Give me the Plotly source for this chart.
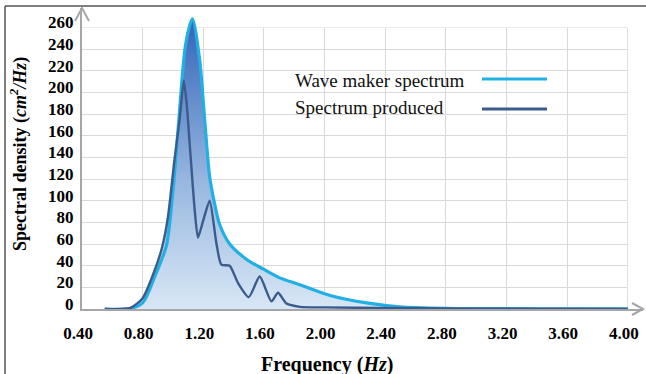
import plotly.graph_objects as go

# ---------------- data ----------------
wave_freq = [0.55, 0.72, 0.80, 0.88, 0.956, 0.978, 1.01, 1.044, 1.084, 1.128, 1.176, 1.209,
             1.242, 1.275, 1.308, 1.374, 1.484, 1.594, 1.70, 1.836, 2.056, 2.277, 2.497, 2.8,
             3.2, 3.6, 4.0]
wave_spec = [0, 0.5, 5.6, 30, 58, 79, 125, 184, 245, 268, 230, 175,
             122, 97, 78, 60, 46, 37, 29, 22.5, 11.7, 5.6, 2.0, 0.6,
             0.3, 0.2, 0.1]

prod_freq = [0.55, 0.72, 0.80, 0.88, 0.93, 0.967, 1.01, 1.044, 1.071, 1.09, 1.110, 1.143,
             1.165, 1.20, 1.242, 1.286, 1.319, 1.374, 1.429, 1.50, 1.572, 1.649, 1.693,
             1.749, 1.836, 2.0, 2.4, 2.8, 3.2, 3.6, 4.0]
prod_spec = [0, 1, 10, 36, 58, 85, 138, 175, 211, 190, 153, 92,
             66, 82, 100, 61, 41, 40, 24, 11, 30, 7, 15,
             5, 2, 1.5, 1.0, 0.5, 0.3, 0.2, 0.1]

x_ticks = [0.40, 0.80, 1.20, 1.60, 2.00, 2.40, 2.80, 3.20, 3.60, 4.00]
y_ticks = list(range(0, 261, 20))

legend_names = ["Wave maker spectrum", "Spectrum produced"]
line_colors = ["#22b0e4", "#3b5b8d"]

# ---------------- layout geometry ----------------
W, H = 646, 374
ML, MR, MT, MB = 82, 3, 8, 65
XR = [0.40, 4.10]
YR = [0, 278]
pw, ph = W - ML - MR, H - MT - MB


def px_x(px):  # pixel -> paper x
    return (px - ML) / pw


def px_y(py):  # pixel -> paper y
    return (H - MB - py) / ph


grad = dict(type="vertical", start=0, stop=268,
            colorscale=[[0, "#d8e7f5"], [0.45, "#96b6df"], [1, "#3264b8"]])

fig = go.Figure()
# fill under produced spectrum (visible only where it exceeds the wave maker one)
fig.add_trace(go.Scatter(x=prod_freq, y=prod_spec, mode="lines", fill="tozeroy",
                         fillgradient=grad, line=dict(width=0, shape="spline", smoothing=0.6),
                         showlegend=False, hoverinfo="skip"))
fig.add_trace(go.Scatter(x=wave_freq, y=wave_spec, mode="lines", fill="tozeroy",
                         fillgradient=grad, name=legend_names[0],
                         line=dict(color=line_colors[0], width=3.2, shape="spline", smoothing=0.8),
                         showlegend=False))
fig.add_trace(go.Scatter(x=prod_freq, y=prod_spec, mode="lines", name=legend_names[1],
                         line=dict(color=line_colors[1], width=2.4, shape="spline", smoothing=0.6),
                         showlegend=False))

tickfont = dict(family="Liberation Serif", size=17, color="black", weight="bold")

fig.update_xaxes(range=XR, tickvals=x_ticks, tickformat=".2f", showgrid=True,
                 gridcolor="#d9d9d9", gridwidth=1, showline=True, linecolor="#a6a6a6",
                 linewidth=2, zeroline=False, ticks="", tickfont=tickfont,
                 ticklabelstandoff=8, ticklabelshift=-4)
fig.update_yaxes(range=YR, tickvals=y_ticks, showgrid=True, gridcolor="#d9d9d9",
                 gridwidth=1, showline=True, linecolor="#a6a6a6", linewidth=2,
                 zeroline=False, ticks="", tickfont=tickfont, ticklabelstandoff=3,
                 ticklabelshift=-5)

shapes = []
# mask gridlines beyond the grid box (between gridlines and traces)
shapes.append(dict(type="rect", xref="x", yref="y", x0=x_ticks[-1], x1=XR[1], y0=YR[0], y1=YR[1],
                   fillcolor="white", line_width=0, layer="between"))
shapes.append(dict(type="rect", xref="x", yref="y", x0=XR[0], x1=XR[1], y0=y_ticks[-1], y1=YR[1],
                   fillcolor="white", line_width=0, layer="between"))
# legend box
shapes.append(dict(type="rect", xref="paper", yref="paper", x0=px_x(280), x1=px_x(563),
                   y0=px_y(128), y1=px_y(58), fillcolor="white", line_width=0, layer="between"))
# legend lines
for i, py in enumerate([79, 109]):
    shapes.append(dict(type="line", xref="paper", yref="paper", x0=px_x(482), x1=px_x(547),
                       y0=px_y(py), y1=px_y(py), line=dict(color=line_colors[i], width=3)))
# axis arrows (chevrons)
shapes.append(dict(type="path", xref="paper", yref="paper", xsizemode="pixel", ysizemode="pixel",
                   xanchor=1, yanchor=0, path="M -11,6 L 0,0 L -11,-6",
                   line=dict(color="#a6a6a6", width=2)))
shapes.append(dict(type="path", xref="paper", yref="paper", xsizemode="pixel", ysizemode="pixel",
                   xanchor=0, yanchor=1, path="M -7,-13 L 0,0 L 7,-13",
                   line=dict(color="#a6a6a6", width=2)))
# outer frame (top and left)
shapes.append(dict(type="line", xref="paper", yref="paper", x0=px_x(5), x1=px_x(646),
                   y0=px_y(6), y1=px_y(6), line=dict(color="#555555", width=1.5)))
shapes.append(dict(type="line", xref="paper", yref="paper", x0=px_x(5), x1=px_x(5),
                   y0=px_y(6), y1=px_y(374), line=dict(color="#555555", width=1.5)))

annotations = []
for name, py in zip(legend_names, [80, 107]):
    annotations.append(dict(text=name, xref="paper", yref="paper", x=px_x(293), y=px_y(py),
                            xanchor="left", yanchor="middle", showarrow=False,
                            font=dict(family="Liberation Serif", size=19, color="#111111")))
annotations.append(dict(text="Spectral density (<i>cm<sup>2</sup>/Hz</i>)", xref="paper",
                        yref="paper", x=px_x(19), y=px_y(154), textangle=-90,
                        xanchor="center", yanchor="middle", showarrow=False,
                        font=dict(family="Liberation Serif", size=18, color="black", weight="bold")))
annotations.append(dict(text="Frequency (<i>Hz</i>)", xref="paper", yref="paper",
                        x=px_x(327), y=px_y(364), xanchor="center", yanchor="middle",
                        showarrow=False,
                        font=dict(family="Liberation Serif", size=20, color="black", weight="bold")))

fig.update_layout(width=W, height=H, margin=dict(l=ML, r=MR, t=MT, b=MB),
                  paper_bgcolor="white", plot_bgcolor="white", shapes=shapes,
                  annotations=annotations, showlegend=False)

fig.write_html("out.html")
